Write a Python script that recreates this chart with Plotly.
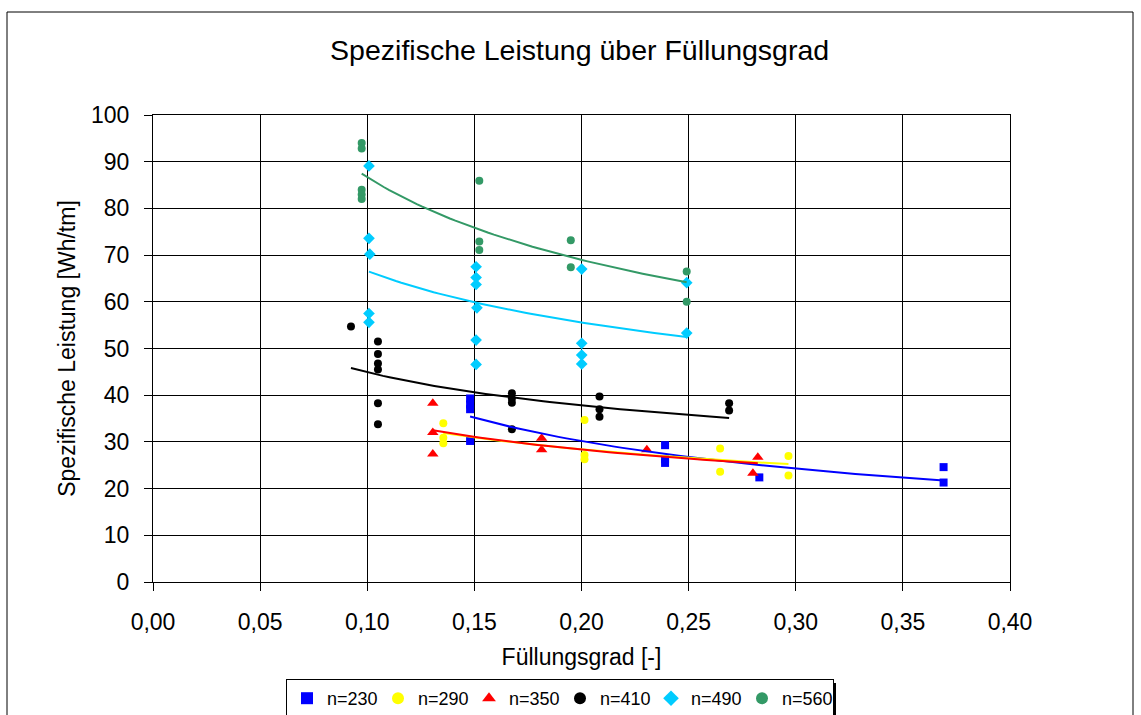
import numpy as np
import plotly.graph_objects as go

# Füllungsgrad [-] and spezifische Leistung [Wh/tm] per speed n
x_230 = [0.148, 0.148, 0.148, 0.148, 0.239, 0.239, 0.239, 0.283, 0.369, 0.369]
y_230 = [39.3, 38.0, 37.0, 30.2, 29.3, 26.3, 25.5, 22.4, 24.6, 21.3]

x_290 = [0.1355, 0.1355, 0.1355, 0.2014, 0.2014, 0.2014, 0.2647, 0.2647, 0.2966, 0.2966]
y_290 = [34.0, 30.9, 29.7, 34.7, 27.2, 26.3, 28.6, 23.6, 27.0, 22.8]

x_350 = [0.1306, 0.1306, 0.1306, 0.1814, 0.1814, 0.2305, 0.2823, 0.2800]
y_350 = [38.3, 32.0, 27.4, 30.8, 28.3, 28.3, 26.7, 23.3]

x_410 = [0.0924, 0.105, 0.105, 0.105, 0.105, 0.105, 0.105,
         0.1675, 0.1675, 0.1675, 0.1675, 0.2084, 0.2084, 0.2084, 0.2689, 0.2689]
y_410 = [54.7, 51.5, 48.8, 46.8, 45.5, 38.3, 33.8,
         40.4, 39.3, 38.4, 32.7, 39.7, 37.0, 35.4, 38.3, 36.7]

x_490 = [0.1008, 0.1008, 0.1012, 0.1008, 0.1008,
         0.1508, 0.1508, 0.1508, 0.1512, 0.1508, 0.1508,
         0.2001, 0.2001, 0.2001, 0.2001, 0.2491, 0.2491]
y_490 = [89.1, 73.6, 70.2, 57.5, 55.6,
         67.5, 65.2, 63.7, 58.7, 51.8, 46.6,
         67.0, 51.1, 48.6, 46.7, 64.1, 53.3]

x_560 = [0.0974, 0.0974, 0.0974, 0.0974, 0.0974, 0.1523, 0.1523, 0.1523,
         0.195, 0.195, 0.2491, 0.2491]
y_560 = [94.0, 92.8, 84.0, 83.0, 82.0, 85.9, 72.9, 71.1, 73.2, 67.4, 66.5, 60.0]

series = [
    ("n=230", x_230, y_230, "square", "#0000FF", 8),
    ("n=290", x_290, y_290, "circle", "#FFFF00", 8),
    ("n=350", x_350, y_350, "triangle-up", "#FF0000", 10),
    ("n=410", x_410, y_410, "circle", "#000000", 8),
    ("n=490", x_490, y_490, "diamond", "#00CCFF", 9),
    ("n=560", x_560, y_560, "circle", "#339966", 8),
]

FONT = "Liberation Sans, Arial, sans-serif"

# plot area in pixels (fixed margins)
W, H = 1141, 715
L, R, T, B = 153, 131, 115, 133
PW, PH = W - L - R, H - T - B


def px_x(px):
    return (px - L) / PW


def px_y(py):
    return (H - B - py) / PH


fig = go.Figure()

for name, xs, ys, sym, col, size in series:
    fig.add_trace(go.Scatter(
        x=xs, y=ys, mode="markers", name=name,
        marker=dict(symbol=sym, color=col, size=size, line=dict(width=0)),
    ))

# power trend lines y = a * x^b, least squares in log-log space
for name, xs, ys, sym, col, size in series:
    lx, ly = np.log(xs), np.log(ys)
    b, ln_a = np.polyfit(lx, ly, 1)
    xf = np.linspace(min(xs), max(xs), 60)
    yf = np.exp(ln_a) * xf ** b
    fig.add_trace(go.Scatter(
        x=xf, y=yf, mode="lines", showlegend=False, hoverinfo="skip",
        line=dict(color=col, width=2),
    ))

axis_common = dict(
    showline=True, linecolor="black", linewidth=1, mirror=True,
    showgrid=True, gridcolor="black", gridwidth=1,
    ticks="outside", ticklen=8, tickcolor="black",
    tickfont=dict(family=FONT, size=23, color="black"),
    zeroline=False,
)

fig.update_layout(
    width=W, height=H,
    margin=dict(l=L, r=R, t=T, b=B, autoexpand=False),
    paper_bgcolor="white", plot_bgcolor="white",
    separators=",.",
    font=dict(family=FONT, color="black"),
    title=dict(text="Spezifische Leistung über Füllungsgrad", x=0.508, xanchor="center",
               y=0.93, yanchor="middle", font=dict(family=FONT, size=28.5, color="black")),
    xaxis=dict(range=[0, 0.4], dtick=0.05, tickformat=".2f", ticklabelstandoff=11,
               title=dict(text="Füllungsgrad [-]", font=dict(family=FONT, size=23), standoff=15),
               **axis_common),
    yaxis=dict(range=[0, 100], dtick=10, ticklabelstandoff=10,
               title=dict(text="Spezifische Leistung [Wh/tm]", font=dict(family=FONT, size=23), standoff=8),
               **axis_common),
    legend=dict(orientation="h", x=px_x(286), xanchor="left",
                y=px_y(679), yanchor="top",
                bgcolor="white", bordercolor="black", borderwidth=1,
                font=dict(family=FONT, size=18, color="black"),
                itemsizing="constant", itemwidth=30, entrywidth=46, tracegroupgap=0),
    shapes=[
        # outer chart frame
        dict(type="rect", xref="paper", yref="paper",
             x0=px_x(7), x1=px_x(1133), y0=px_y(730), y1=px_y(12),
             line=dict(color="black", width=1), fillcolor="rgba(0,0,0,0)", layer="below"),
        # legend shadow
        dict(type="rect", xref="paper", yref="paper",
             x0=px_x(832), x1=px_x(836), y0=px_y(716), y1=px_y(683),
             line=dict(width=0), fillcolor="black"),
    ],
)

fig.write_html("out.html")
